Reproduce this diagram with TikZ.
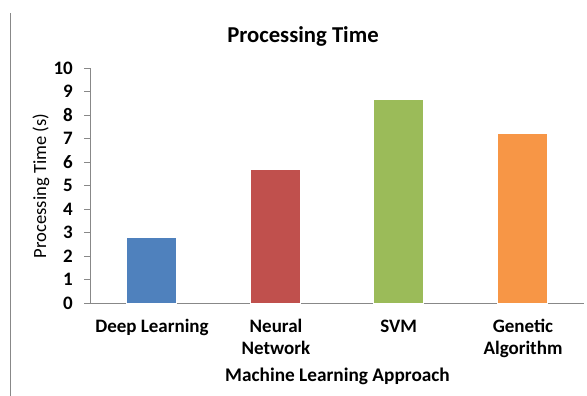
\documentclass[tikz,border=0pt]{standalone}
\usepackage{fontspec}
\setmainfont{Carlito}
\usepackage{tikz}
\usetikzlibrary{positioning,calc}

\definecolor{barblue}{HTML}{4F81BD}
\definecolor{barred}{HTML}{C0504D}
\definecolor{bargreen}{HTML}{9BBB59}
\definecolor{barorange}{HTML}{F79646}
\definecolor{axisgray}{HTML}{888888}

\begin{document}
\begin{tikzpicture}[
    x=1pt, y=1pt,
    axis/.style={draw=axisgray, line width=0.9pt},
    ticklabel/.style={anchor=east, inner sep=0pt, font=\fontsize{19}{22}\selectfont\bfseries},
    catlabel/.style={anchor=base, inner sep=0pt, align=center, font=\fontsize{19}{22}\selectfont\bfseries},
    bar/.style={draw=white, line width=0.6pt}
]
    \useasboundingbox (0,0) rectangle (587,396);
    % frame line on the left
    \draw[draw=axisgray, line width=0.8pt] (10,0) -- (10,383);

    \node[anchor=base, inner sep=0pt, font=\fontsize{22.7}{26}\selectfont\bfseries] (title) at (303,353) {Processing Time};

    % axes
    \coordinate (origin) at (90,93);
    \coordinate (xend) at (584,93);
    \coordinate (ytop) at (90,328);
    \draw[axis] (84,93) -- (xend);
    \draw[axis] (origin) -- (ytop);
    \foreach \v in {0,...,10} {
        \draw[axis] (84,93+23.5*\v) -- (90,93+23.5*\v);
        \node[ticklabel] (tick\v) at (73,93+23.5*\v) {\v};
    }

    % bars
    \foreach \i/\val/\col in {0/2.78/barblue, 1/5.7/barred, 2/8.65/bargreen, 3/7.22/barorange} {
        \fill[\col, bar] (90+61.75+123.5*\i-25,93) rectangle ++(50,23.5*\val);
    }

    % category labels (base of a two-line label is its last line)
    \node[catlabel] (deep) at (152,63) {Deep Learning};
    \node[catlabel] (neural) at (276,41) {Neural\\Network};
    \node[catlabel] (svm) at (398.75,63) {SVM};
    \node[catlabel] (genetic) at (523,41) {Genetic\\Algorithm};

    \node[catlabel, font=\fontsize{19.3}{22}\selectfont\bfseries] (xlabel) at (337.5,14) {Machine Learning Approach};
    \node[rotate=90, inner sep=0pt, font=\fontsize{18.6}{22}\selectfont] (ylabel) at (41,210) {Processing Time (s)};
\end{tikzpicture}
\end{document}
